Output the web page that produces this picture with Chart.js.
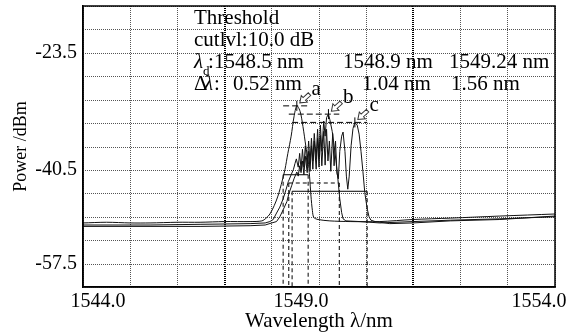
<!DOCTYPE html>
<html lang="en">
<head>
  <meta charset="UTF-8" />
  <title>Threshold bandwidth spectra</title>
  <script src="https://cdn.jsdelivr.net/npm/chart.js"></script>
  <style>
    html, body { margin: 0; padding: 0; background: #fff; }
    canvas { display: block; }
  </style>
</head>
<body>
  <canvas id="spectrum" width="577" height="334"></canvas>

  <script>
    // trace a : wavelength (nm) / power (dBm)
    const waveA = [1544.00, 1544.50, 1545.00, 1545.42, 1546.00, 1546.48, 1547.00, 1547.54, 1547.79, 1547.88,
                   1547.96, 1548.05, 1548.13, 1548.22, 1548.28, 1548.34, 1548.41, 1548.47, 1548.53, 1548.60,
                   1548.66, 1548.72, 1548.77, 1548.80, 1548.83, 1548.86, 1548.89, 1548.98, 1549.23, 1549.66,
                   1550.29, 1550.99, 1551.78, 1552.83, 1554.00];
    const powerA = [-48.2, -48.1, -48.2, -48.2, -48.1, -48.1, -48.0, -48.0, -47.9, -47.5,
                    -46.9, -45.7, -44.3, -42.1, -40.4, -38.1, -35.6, -32.8, -31.2, -32.0,
                    -34.2, -37.0, -39.2, -41.4, -44.3, -46.4, -47.4, -47.7, -47.9, -48.0,
                    -48.0, -47.7, -47.5, -47.2, -46.9];

    // trace b
    const waveB = [1544.00, 1545.42, 1546.48, 1547.54, 1547.86, 1547.96, 1548.03, 1548.09, 1548.17, 1548.24,
                   1548.30, 1548.35, 1548.41, 1548.46, 1548.49, 1548.52, 1548.56, 1548.59, 1548.62, 1548.65,
                   1548.68, 1548.71, 1548.75, 1548.78, 1548.81, 1548.84, 1548.87, 1548.90, 1548.94, 1548.97,
                   1549.00, 1549.03, 1549.06, 1549.10, 1549.13, 1549.16, 1549.20, 1549.23, 1549.28, 1549.32,
                   1549.36, 1549.40, 1549.44, 1549.48, 1549.51, 1549.57, 1549.87, 1550.29, 1550.99, 1551.78,
                   1552.83, 1554.00];
    const powerB = [-48.5, -48.5, -48.4, -48.3, -48.2, -48.0, -47.7, -46.9, -45.9, -44.7,
                    -43.4, -42.2, -41.2, -40.4, -39.6, -38.9, -40.1, -38.1, -40.4, -37.5,
                    -40.1, -37.0, -39.9, -36.3, -39.5, -35.9, -39.2, -35.2, -38.9, -34.6,
                    -38.5, -34.0, -37.8, -33.4, -35.6, -32.9, -32.4, -33.2, -34.9, -37.0,
                    -39.2, -41.8, -44.7, -46.7, -47.6, -47.9, -48.0, -48.2, -48.0, -47.8,
                    -47.6, -47.3];

    // trace c
    const waveC = [1544.00, 1545.42, 1546.48, 1547.54, 1547.86, 1548.00, 1548.10, 1548.17, 1548.24, 1548.32,
                   1548.36, 1548.42, 1548.47, 1548.53, 1548.56, 1548.59, 1548.62, 1548.65, 1548.68, 1548.71,
                   1548.75, 1548.78, 1548.81, 1548.84, 1548.87, 1548.90, 1548.94, 1548.97, 1549.00, 1549.03,
                   1549.06, 1549.10, 1549.13, 1549.16, 1549.19, 1549.22, 1549.25, 1549.29, 1549.32, 1549.35,
                   1549.38, 1549.41, 1549.44, 1549.48, 1549.51, 1549.55, 1549.58, 1549.61, 1549.64, 1549.68,
                   1549.72, 1549.76, 1549.81, 1549.85, 1549.89, 1549.93, 1549.97, 1550.02, 1550.06, 1550.10,
                   1550.19, 1550.50, 1550.99, 1551.78, 1552.83, 1554.00];
    const powerC = [-48.7, -48.7, -48.7, -48.6, -48.5, -48.2, -48.0, -47.3, -46.3, -45.1,
                    -44.0, -42.8, -41.8, -40.8, -41.4, -39.9, -40.9, -39.2, -41.2, -38.5,
                    -40.9, -37.8, -40.7, -37.0, -40.4, -36.3, -40.4, -35.9, -40.1, -35.5,
                    -39.9, -34.9, -39.8, -34.6, -39.2, -36.3, -40.7, -35.2, -39.9, -36.3,
                    -41.0, -41.8, -37.8, -35.6, -35.0, -37.8, -41.4, -43.3, -41.4, -37.0,
                    -34.5, -33.6, -34.0, -35.3, -37.8, -40.7, -43.8, -46.1, -47.3, -47.8,
                    -48.0, -48.3, -48.2, -47.9, -47.7, -47.2];

    // marker readings for each trace
    const traceNames = ['a', 'b', 'c'];
    const peakWave = [1548.53, 1549.20, 1549.76];
    const peakPower = [-31.2, -32.4, -33.6];
    const edgeLeft = [1548.24, 1548.36, 1548.43];
    const edgeRight = [1548.77, 1549.43, 1550.02];
    const cutLevel = 10.0;
    const centerText = ['1548.5', '1548.9', '1549.24'];
    const widthText = ['0.52', '1.04', '1.56'];

    // axes: 10 x 12 divisions
    const xMin = 1544, xStep = 1, xDivs = 10;
    const yMin = -57.5, yStep = 3.4, yDivs = 12;
    const xTickValues = [1544, 1549, 1554];
    const xTickLabels = ['1544.0', '1549.0', '1554.0'];
    const yTickValues = [-23.5, -40.5, -54.1];
    const yTickLabels = ['-23.5', '-40.5', '-57.5'];
    const heavyGrid = [1547, 1551];

    const xMax = xMin + xStep * xDivs;
    const yMax = +(yMin + yStep * yDivs).toFixed(2);
    const gridValues = (min, step, n) => Array.from({ length: n + 1 }, (_, k) => +(min + k * step).toFixed(2));

    const SERIF = '"Liberation Serif", "Times New Roman", serif';
    Chart.defaults.font.family = SERIF;
    Chart.defaults.color = '#000';

    const datasets = [];
    [[waveA, powerA], [waveB, powerB], [waveC, powerC]].forEach(([w, p], i) => {
      datasets.push({
        data: w.map((x, k) => ({ x: x, y: p[k] })),
        borderColor: '#111', borderWidth: 1, pointRadius: 0,
        tension: i === 0 ? 0.3 : 0
      });
    });

    traceNames.forEach((n, i) => {
      const thr = peakPower[i] - cutLevel;
      const line = { borderColor: '#000', borderWidth: 1, pointRadius: 0, tension: 0 };
      // -10 dB level between the band edges
      datasets.push(Object.assign({}, line, {
        data: [{ x: edgeLeft[i], y: thr }, { x: edgeRight[i], y: thr }],
        borderDash: i === 1 ? [4, 3] : []
      }));
      // band edges down to the floor
      datasets.push(Object.assign({}, line, {
        data: [{ x: edgeLeft[i], y: thr }, { x: edgeLeft[i], y: yMin }], borderDash: [4, 3]
      }));
      datasets.push(Object.assign({}, line, {
        data: [{ x: edgeRight[i], y: thr }, { x: edgeRight[i], y: yMin }], borderDash: [4, 3]
      }));
      // peak level
      datasets.push(Object.assign({}, line, {
        data: [{ x: edgeLeft[i], y: peakPower[i] }, { x: edgeRight[i], y: peakPower[i] }],
        borderDash: [6, 3]
      }));
    });

    // small tick on each peak
    datasets.push({
      data: peakWave.map((x, i) => ({ x: x, y: peakPower[i] })),
      showLine: false, pointStyle: 'line', rotation: 90, pointRadius: 5,
      pointBorderColor: '#000', pointBorderWidth: 1
    });

    function hollowArrow(ctx, tx, ty, ang, len) {
      ctx.save();
      ctx.translate(tx, ty);
      ctx.rotate(ang);
      ctx.beginPath();
      ctx.moveTo(0, 0);
      ctx.lineTo(6, -4.5);
      ctx.lineTo(6, -1.8);
      ctx.lineTo(len, -1.8);
      ctx.lineTo(len, 1.8);
      ctx.lineTo(6, 1.8);
      ctx.lineTo(6, 4.5);
      ctx.closePath();
      ctx.fillStyle = '#fff';
      ctx.fill();
      ctx.lineWidth = 1;
      ctx.strokeStyle = '#333';
      ctx.stroke();
      ctx.restore();
    }

    // horizontal dotted grid, one line per y division
    const powerGrid = {
      id: 'powerGrid',
      beforeDatasetsDraw(chart) {
        const { ctx, chartArea: a, scales: { y } } = chart;
        ctx.save();
        ctx.strokeStyle = '#555';
        ctx.lineWidth = 1;
        ctx.setLineDash([1, 1]);
        gridValues(yMin, yStep, yDivs).forEach(v => {
          const py = Math.round(y.getPixelForValue(v)) + 0.5;
          ctx.beginPath();
          ctx.moveTo(a.left, py);
          ctx.lineTo(a.right, py);
          ctx.stroke();
        });
        ctx.restore();
      }
    };

    const overlay = {
      id: 'overlay',
      afterDraw(chart) {
        const { ctx, chartArea: a, scales: { x, y } } = chart;
        ctx.save();

        // plot frame
        ctx.strokeStyle = '#000';
        ctx.lineWidth = 1.5;
        ctx.strokeRect(a.left, a.top, a.right - a.left, a.bottom - a.top);

        // x tick labels (placed as on the original print)
        const nudge = [15, -18, -16];
        ctx.fillStyle = '#000';
        ctx.font = '20px ' + SERIF;
        ctx.textAlign = 'center';
        ctx.textBaseline = 'middle';
        xTickValues.forEach((v, i) => {
          ctx.fillText(xTickLabels[i], x.getPixelForValue(v) + nudge[i], a.bottom + 15);
        });

        // threshold readout
        const tx = a.left + 111;
        ctx.textAlign = 'left';
        ctx.textBaseline = 'alphabetic';
        ctx.font = '21px ' + SERIF;
        ctx.fillText('Threshold', tx, a.top + 18);
        ctx.fillText('cutlvl:' + cutLevel.toFixed(1) + ' dB', tx, a.top + 40);

        ctx.font = 'italic 21px ' + SERIF;
        ctx.fillText('λ', tx, a.top + 62);
        ctx.font = '13px ' + SERIF;
        ctx.fillText('d', tx + 9, a.top + 69);
        ctx.font = '21px ' + SERIF;
        ctx.fillText(':', tx + 14, a.top + 62);
        const col1 = [131, 260, 366];
        centerText.forEach((t, i) => ctx.fillText(t + ' nm', a.left + col1[i], a.top + 62));

        ctx.fillText('Δ', tx, a.top + 84);
        ctx.font = 'italic 21px ' + SERIF;
        ctx.fillText('λ', tx + 10, a.top + 84);
        ctx.font = '21px ' + SERIF;
        ctx.fillText(':', tx + 20, a.top + 84);
        const col2 = [150, 279, 368];
        widthText.forEach((t, i) => ctx.fillText(t + ' nm', a.left + col2[i], a.top + 84));

        // a / b / c pointers
        traceNames.forEach((n, i) => {
          const px = x.getPixelForValue(peakWave[i]) + 3;
          const py = y.getPixelForValue(peakPower[i]) - 3;
          const ang = Math.atan2(-9, 10);
          const len = 13;
          hollowArrow(ctx, px, py, ang, len);
          const ex = px + Math.cos(ang) * len;
          const ey = py + Math.sin(ang) * len;
          ctx.fillStyle = '#000';
          ctx.font = '21px ' + SERIF;
          ctx.textBaseline = 'middle';
          ctx.fillText(n, ex + 2, ey - 5);
        });

        ctx.restore();
      }
    };

    const gridColor = c => (c.tick && heavyGrid.includes(c.tick.value)) ? '#000' : '#555';
    const gridWidth = c => (c.tick && heavyGrid.includes(c.tick.value)) ? 2 : 1;

    new Chart(document.getElementById('spectrum').getContext('2d'), {
      type: 'line',
      data: { datasets: datasets },
      plugins: [powerGrid, overlay],
      options: {
        responsive: false,
        animation: false,
        layout: { padding: { top: 4, right: 22, bottom: 0, left: 0 } },
        plugins: {
          legend: { display: false },
          tooltip: { enabled: false }
        },
        scales: {
          x: {
            type: 'linear',
            min: xMin,
            max: xMax,
            afterBuildTicks: s => { s.ticks = gridValues(xMin, xStep, xDivs).map(v => ({ value: v })); },
            afterFit: s => {
              s.height = 47;
              s.paddingLeft = 0;
              s.paddingRight = 0;
            },
            ticks: { autoSkip: false, display: false },
            grid: { color: gridColor, lineWidth: gridWidth, drawTicks: false },
            border: { color: '#000', width: 1.5, dash: [1, 1] },
            title: {
              display: true,
              text: 'Wavelength λ/nm',
              font: { size: 21 },
              padding: { top: 0, bottom: 0 }
            }
          },
          y: {
            type: 'linear',
            min: yMin,
            max: yMax,
            afterBuildTicks: s => { s.ticks = gridValues(yMin, yStep, yDivs).map(v => ({ value: v })); },
            afterFit: s => {
              s.width = 83;
              s.paddingTop = 0;
              s.paddingBottom = 0;
            },
            ticks: {
              autoSkip: false,
              padding: 6,
              font: { size: 20 },
              callback: value => {
                const i = yTickValues.findIndex(v => Math.abs(v - value) < 0.01);
                return i >= 0 ? yTickLabels[i] : '';
              }
            },
            grid: { drawOnChartArea: false, drawTicks: false },
            border: { color: '#000', width: 1.5 },
            title: {
              display: true,
              text: 'Power /dBm',
              font: { size: 18 },
              padding: { top: 10, bottom: 0 }
            }
          }
        }
      }
    });
  </script>
</body>
</html>
